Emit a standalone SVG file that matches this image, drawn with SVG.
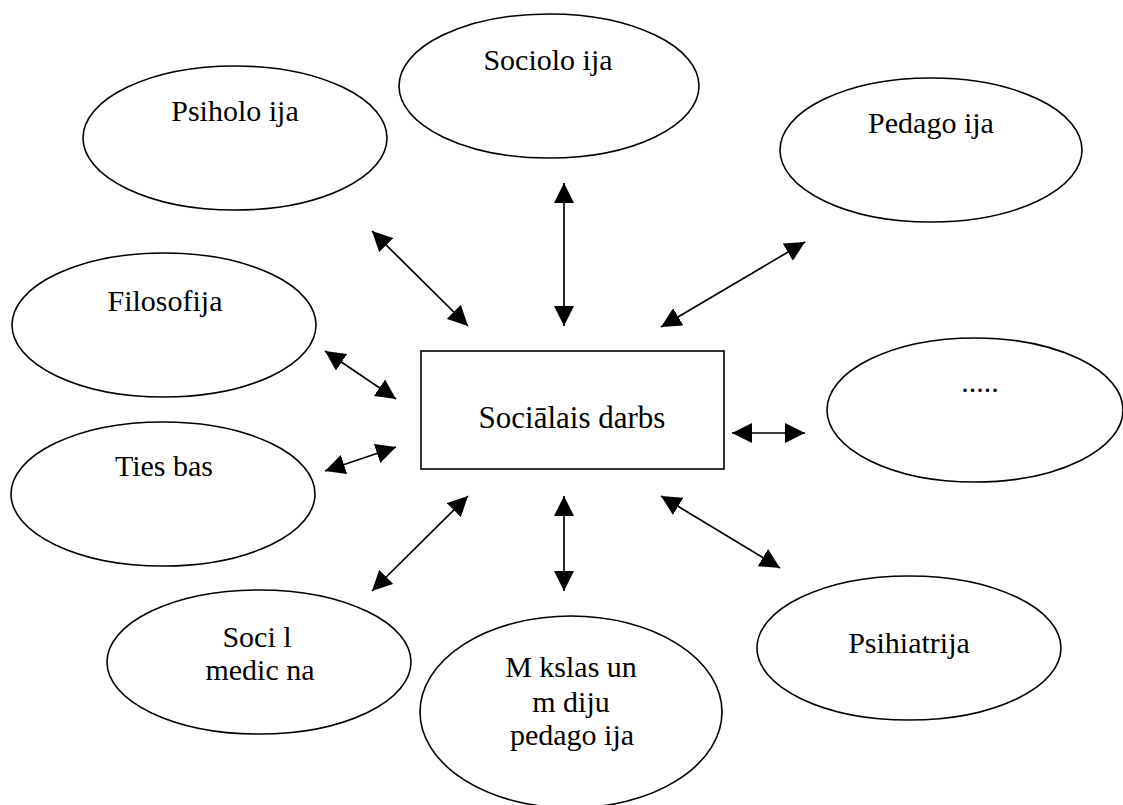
<svg xmlns="http://www.w3.org/2000/svg" width="1123" height="805" viewBox="0 0 1123 805">
  <style>
    .shape { fill: #fff; stroke: #000; stroke-width: 1.6; }
    .label { font-family: "Liberation Serif", "Times New Roman", serif; font-size: 30px; fill: #000; text-anchor: middle; }
    .title { font-size: 31px; }
    .link { stroke: #000; stroke-width: 1.7; fill: none; marker-start: url(#head); marker-end: url(#head); }
  </style>
  <defs>
    <marker id="head" viewBox="0 0 20 20" refX="20" refY="10" markerWidth="20" markerHeight="20" markerUnits="userSpaceOnUse" orient="auto-start-reverse">
      <path d="M0,0 L20,10 L0,20 Z" fill="#000"/>
    </marker>
  </defs>
  <rect width="1123" height="805" fill="#fff"/>

  <!-- central node -->
  <g id="node-socialais-darbs">
    <rect class="shape" x="421" y="351" width="303" height="118"/>
    <text class="label title" x="572" y="428">Sociālais darbs</text>
  </g>

  <!-- surrounding disciplines -->
  <g id="node-sociologija">
    <ellipse class="shape" cx="549" cy="86" rx="150" ry="72"/>
    <text class="label" x="548" y="70">Sociolo ija</text>
  </g>
  <g id="node-psihologija">
    <ellipse class="shape" cx="235" cy="138" rx="152" ry="72"/>
    <text class="label" x="235" y="121">Psiholo ija</text>
  </g>
  <g id="node-pedagogija">
    <ellipse class="shape" cx="931" cy="150" rx="151" ry="72"/>
    <text class="label" x="931" y="133">Pedago ija</text>
  </g>
  <g id="node-filosofija">
    <ellipse class="shape" cx="164" cy="325" rx="152" ry="72"/>
    <text class="label" x="165" y="311">Filosofija</text>
  </g>
  <g id="node-other">
    <ellipse class="shape" cx="975" cy="410" rx="148" ry="72"/>
    <text class="label" x="980" y="392">.....</text>
  </g>
  <g id="node-tiesibas">
    <ellipse class="shape" cx="163" cy="494" rx="152" ry="72"/>
    <text class="label" x="164" y="476">Ties bas</text>
  </g>
  <g id="node-sociala-medicina">
    <ellipse class="shape" cx="259" cy="662" rx="152" ry="72"/>
    <text class="label" x="257" y="647">Soci l</text>
    <text class="label" x="260" y="680">medic na</text>
  </g>
  <g id="node-makslas-pedagogija">
    <ellipse class="shape" cx="571" cy="712" rx="151" ry="96"/>
    <text class="label" x="571" y="677">M kslas un</text>
    <text class="label" x="571" y="712">m diju</text>
    <text class="label" x="572" y="745">pedago ija</text>
  </g>
  <g id="node-psihiatrija">
    <ellipse class="shape" cx="909" cy="648" rx="152" ry="72"/>
    <text class="label" x="909" y="653">Psihiatrija</text>
  </g>

  <!-- two-way connectors -->
  <g id="connectors">
    <line class="link" x1="372" y1="231" x2="468" y2="326"/>
    <line class="link" x1="564" y1="183" x2="564" y2="326"/>
    <line class="link" x1="805" y1="242" x2="661" y2="327"/>
    <line class="link" x1="325" y1="351" x2="396" y2="399"/>
    <line class="link" x1="732" y1="433" x2="805" y2="433"/>
    <line class="link" x1="325" y1="471" x2="396" y2="447"/>
    <line class="link" x1="468" y1="496" x2="372" y2="591"/>
    <line class="link" x1="564" y1="496" x2="564" y2="591"/>
    <line class="link" x1="661" y1="496" x2="780" y2="568"/>
  </g>
</svg>
